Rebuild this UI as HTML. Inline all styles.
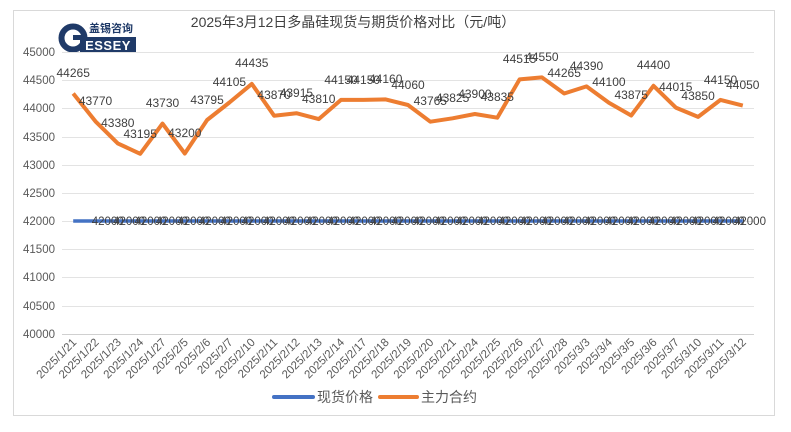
<!DOCTYPE html>
<html><head><meta charset="utf-8"><style>
html,body{margin:0;padding:0;background:#fff;}
svg{display:block;font-family:"Liberation Sans","Noto Sans CJK SC",sans-serif;}
</style></head><body>
<svg width="791" height="432" viewBox="0 0 791 432" xmlns="http://www.w3.org/2000/svg">
<rect x="13.5" y="10.5" width="761" height="405" fill="#fff" stroke="#d9d9d9"/>
<!-- logo -->
<circle cx="73" cy="38" r="11.5" fill="none" stroke="#1f3a68" stroke-width="6"/>
<rect x="73" y="35" width="14" height="5" fill="#1f3a68"/>
<rect x="80" y="37" width="56" height="15" fill="#1f3a68"/>
<text x="108" y="50" font-size="13" font-weight="bold" fill="#fff" text-anchor="middle" letter-spacing="0.5">ESSEY</text>
<text x="111" y="32" font-size="11" fill="#1f3a68" text-anchor="middle" font-family="Noto Sans CJK SC,sans-serif" font-weight="bold">盖锡咨询</text>
<!-- title -->
<text x="353" y="27" font-size="14" fill="#404040" text-anchor="middle">2025年3月12日多晶硅现货与期货价格对比（元/吨）</text>
<!-- grid -->
<g stroke="#e3e3e3" stroke-width="1">
<line x1="62" x2="754" y1="52.5" y2="52.5"/><line x1="62" x2="754" y1="80.5" y2="80.5"/>
<line x1="62" x2="754" y1="108.5" y2="108.5"/><line x1="62" x2="754" y1="137.5" y2="137.5"/>
<line x1="62" x2="754" y1="165.5" y2="165.5"/><line x1="62" x2="754" y1="193.5" y2="193.5"/>
<line x1="62" x2="754" y1="221.5" y2="221.5"/><line x1="62" x2="754" y1="249.5" y2="249.5"/>
<line x1="62" x2="754" y1="277.5" y2="277.5"/><line x1="62" x2="754" y1="306.5" y2="306.5"/>
</g>
<line x1="62" x2="754" y1="334.5" y2="334.5" stroke="#d0d0d0"/>
<g font-size="11.5" fill="#595959" text-anchor="end">
<text x="55" y="56">45000</text><text x="55" y="84">44500</text><text x="55" y="112">44000</text>
<text x="55" y="141">43500</text><text x="55" y="169">43000</text><text x="55" y="197">42500</text>
<text x="55" y="225">42000</text><text x="55" y="253">41500</text><text x="55" y="281">41000</text>
<text x="55" y="310">40500</text><text x="55" y="338">40000</text>
</g>
<!-- blue -->
<line x1="73.2" x2="742.8" y1="221" y2="221" stroke="#4472C4" stroke-width="3.5"/>
<g font-size="11.5" fill="#404040">
<text x="91.7" y="225">42000</text><text x="113.1" y="225">42000</text><text x="134.5" y="225">42000</text><text x="155.9" y="225">42000</text><text x="177.3" y="225">42000</text><text x="198.8" y="225">42000</text><text x="220.2" y="225">42000</text><text x="241.6" y="225">42000</text><text x="263.0" y="225">42000</text><text x="284.4" y="225">42000</text><text x="305.8" y="225">42000</text><text x="327.2" y="225">42000</text><text x="348.6" y="225">42000</text><text x="370.0" y="225">42000</text><text x="391.4" y="225">42000</text><text x="412.9" y="225">42000</text><text x="434.3" y="225">42000</text><text x="455.7" y="225">42000</text><text x="477.1" y="225">42000</text><text x="498.5" y="225">42000</text><text x="519.9" y="225">42000</text><text x="541.3" y="225">42000</text><text x="562.7" y="225">42000</text><text x="584.1" y="225">42000</text><text x="605.5" y="225">42000</text><text x="626.9" y="225">42000</text><text x="648.4" y="225">42000</text><text x="669.8" y="225">42000</text><text x="691.2" y="225">42000</text><text x="712.6" y="225">42000</text><text x="734.0" y="225">42000</text>
</g>
<!-- orange -->
<polyline fill="none" stroke="#ED7D31" stroke-width="4" stroke-linejoin="round" points="73.2,93.5 95.5,121.4 117.8,143.4 140.2,153.8 162.5,123.6 184.8,153.5 207.1,120.0 229.4,102.5 251.8,83.9 274.1,115.7 296.4,113.2 318.7,119.1 341.0,99.9 363.4,99.9 385.7,99.4 408.0,105.0 430.3,121.7 452.6,118.3 474.9,114.0 497.3,117.7 519.6,79.4 541.9,77.4 564.2,93.5 586.5,86.4 608.9,102.8 631.2,115.5 653.5,85.8 675.8,107.6 698.1,116.9 720.5,99.9 742.8,105.6"/>
<g font-size="12" fill="#404040" text-anchor="middle">
<text x="73.2" y="77">44265</text><text x="95.5" y="105">43770</text><text x="117.8" y="127">43380</text><text x="140.2" y="138">43195</text><text x="162.5" y="107">43730</text><text x="184.8" y="137">43200</text><text x="207.1" y="104">43795</text><text x="229.4" y="86">44105</text><text x="251.8" y="67">44435</text><text x="274.1" y="99">43870</text><text x="296.4" y="97">43915</text><text x="318.7" y="103">43810</text><text x="341.0" y="84">44150</text><text x="363.4" y="84">44150</text><text x="385.7" y="83">44160</text><text x="408.0" y="89">44060</text><text x="430.3" y="105">43765</text><text x="452.6" y="102">43825</text><text x="474.9" y="98">43900</text><text x="497.3" y="101">43835</text><text x="519.6" y="63">44515</text><text x="541.9" y="61">44550</text><text x="564.2" y="77">44265</text><text x="586.5" y="70">44390</text><text x="608.9" y="86">44100</text><text x="631.2" y="99">43875</text><text x="653.5" y="69">44400</text><text x="675.8" y="91">44015</text><text x="698.1" y="100">43850</text><text x="720.5" y="84">44150</text><text x="742.8" y="89">44050</text>
</g>
<!-- x labels -->
<g font-size="11.5" fill="#595959" text-anchor="end">
<text transform="translate(77.2,343) rotate(-45)">2025/1/21</text><text transform="translate(99.5,343) rotate(-45)">2025/1/22</text><text transform="translate(121.8,343) rotate(-45)">2025/1/23</text><text transform="translate(144.2,343) rotate(-45)">2025/1/24</text><text transform="translate(166.5,343) rotate(-45)">2025/1/27</text><text transform="translate(188.8,343) rotate(-45)">2025/2/5</text><text transform="translate(211.1,343) rotate(-45)">2025/2/6</text><text transform="translate(233.4,343) rotate(-45)">2025/2/7</text><text transform="translate(255.8,343) rotate(-45)">2025/2/10</text><text transform="translate(278.1,343) rotate(-45)">2025/2/11</text><text transform="translate(300.4,343) rotate(-45)">2025/2/12</text><text transform="translate(322.7,343) rotate(-45)">2025/2/13</text><text transform="translate(345.0,343) rotate(-45)">2025/2/14</text><text transform="translate(367.4,343) rotate(-45)">2025/2/17</text><text transform="translate(389.7,343) rotate(-45)">2025/2/18</text><text transform="translate(412.0,343) rotate(-45)">2025/2/19</text><text transform="translate(434.3,343) rotate(-45)">2025/2/20</text><text transform="translate(456.6,343) rotate(-45)">2025/2/21</text><text transform="translate(478.9,343) rotate(-45)">2025/2/24</text><text transform="translate(501.3,343) rotate(-45)">2025/2/25</text><text transform="translate(523.6,343) rotate(-45)">2025/2/26</text><text transform="translate(545.9,343) rotate(-45)">2025/2/27</text><text transform="translate(568.2,343) rotate(-45)">2025/2/28</text><text transform="translate(590.5,343) rotate(-45)">2025/3/3</text><text transform="translate(612.9,343) rotate(-45)">2025/3/4</text><text transform="translate(635.2,343) rotate(-45)">2025/3/5</text><text transform="translate(657.5,343) rotate(-45)">2025/3/6</text><text transform="translate(679.8,343) rotate(-45)">2025/3/7</text><text transform="translate(702.1,343) rotate(-45)">2025/3/10</text><text transform="translate(724.5,343) rotate(-45)">2025/3/11</text><text transform="translate(746.8,343) rotate(-45)">2025/3/12</text>
</g>
<!-- legend -->
<line x1="274" x2="313" y1="397" y2="397" stroke="#4472C4" stroke-width="4" stroke-linecap="round"/>
<text x="317" y="402" font-size="14" fill="#595959">现货价格</text>
<line x1="380" x2="417" y1="397" y2="397" stroke="#ED7D31" stroke-width="4" stroke-linecap="round"/>
<text x="421" y="402" font-size="14" fill="#595959">主力合约</text>
</svg>
</body></html>
